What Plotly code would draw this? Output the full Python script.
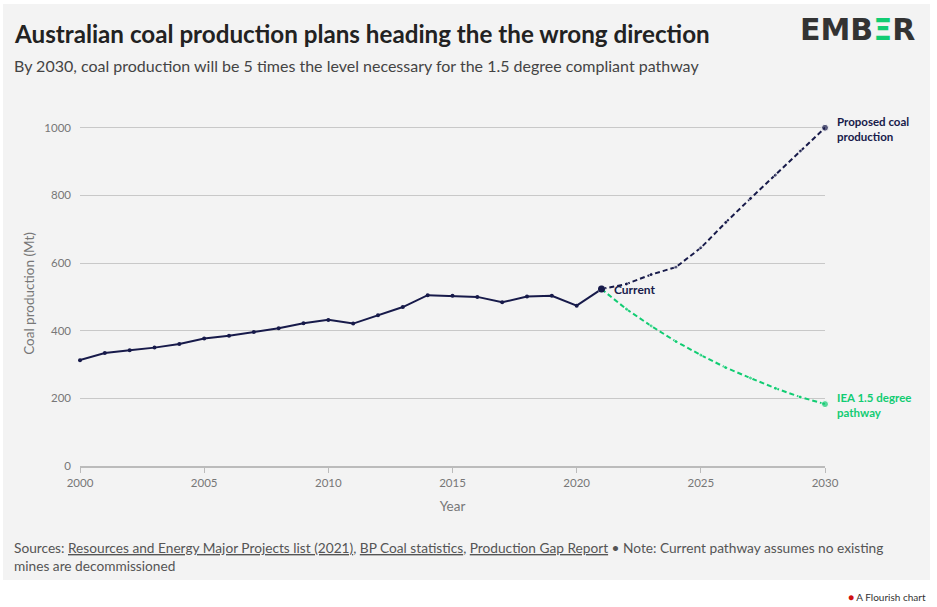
import plotly.graph_objects as go

# ---- data ----
hist_years = list(range(2000, 2022))
hist_values = [313, 334, 342, 350, 361, 377, 385, 396, 407, 422, 432, 421,
               446, 470, 505, 503, 500, 484, 501, 503, 474, 523]
proj_years = list(range(2021, 2031))
proposed_values = [523, 538, 566, 588, 645, 720, 791, 860, 931, 1000]
iea_values = [523, 464, 414, 368, 328, 291, 260, 230, 204, 183]
y_ticks = [0, 200, 400, 600, 800, 1000]
x_ticks = [2000, 2005, 2010, 2015, 2020, 2025, 2030]

NAVY = "#171a4a"
GREEN = "#11cc72"
GRAY_TXT = "#777777"
BG = "#f3f3f3"
FONT = "Lato"

W, H = 937, 607
ML, MR, MT, MB = 80, 112, 121, 141
PH = H - MT - MB
PW = W - ML - MR


def py(p):  # pixel y -> paper y
    return (H - MB - p) / PH


def px(p):  # pixel x -> paper x
    return (p - ML) / PW


fig = go.Figure()

fig.add_trace(go.Scatter(
    x=hist_years, y=hist_values, mode="lines+markers",
    line=dict(color=NAVY, width=2), marker=dict(size=4, color=NAVY),
    cliponaxis=False, showlegend=False))
fig.add_trace(go.Scatter(
    x=proj_years, y=proposed_values, mode="lines+markers",
    line=dict(color=NAVY, width=2, dash="5px,3px"),
    marker=dict(size=[7] + [4] * (len(proj_years) - 2) + [7], color=NAVY),
    cliponaxis=False, showlegend=False))
fig.add_trace(go.Scatter(
    x=proj_years, y=iea_values, mode="lines+markers",
    line=dict(color=GREEN, width=2, dash="5px,3px"),
    marker=dict(size=[0] + [4] * (len(proj_years) - 2) + [7], color=GREEN),
    cliponaxis=False, showlegend=False))
# re-draw current point on top
fig.add_trace(go.Scatter(
    x=[proj_years[0]], y=[proposed_values[0]], mode="markers",
    marker=dict(size=7, color=NAVY), cliponaxis=False, showlegend=False))

# white page strip under the gray panel, and thin white borders
for (x0, x1, y0, y1) in [(0, W, 580, H), (0, 3, 0, H), (930, W, 0, H), (0, W, 0, 4)]:
    fig.add_shape(type="rect", xref="paper", yref="paper",
                  x0=px(x0), x1=px(x1), y0=py(y1), y1=py(y0),
                  fillcolor="white", line=dict(width=0), layer="above")

ann = []
ann.append(dict(text="<b>Australian coal production plans heading the the wrong direction</b>",
                x=px(12), y=py(33), xanchor="left", yanchor="middle",
                font=dict(size=24.2, color="#222222", family=FONT)))
ann.append(dict(text="By 2030, coal production will be 5 times the level necessary for the 1.5 degree compliant pathway",
                x=px(12), y=py(66), xanchor="left", yanchor="middle",
                font=dict(size=16, color="#444444", family=FONT)))
ann.append(dict(text="<b>EMB<span style='color:%s'>Ξ</span>R</b>" % GREEN,
                x=px(917), y=py(29), xanchor="right", yanchor="middle",
                font=dict(size=30, color="#333333", family="DejaVu Sans")))
ann.append(dict(text="<b>Current</b>", x=2021, y=proposed_values[0], xref="x", yref="y",
                xanchor="left", yanchor="middle", xshift=10,
                font=dict(size=12, color=NAVY, family=FONT)))
ann.append(dict(text="<b>Proposed coal<br>production</b>", x=2030, y=proposed_values[-1],
                xref="x", yref="y", xanchor="left", yanchor="middle", xshift=10, yshift=-1,
                align="left", font=dict(size=11.5, color=NAVY, family=FONT)))
ann.append(dict(text="<b>IEA 1.5 degree<br>pathway</b>", x=2030, y=iea_values[-1],
                xref="x", yref="y", xanchor="left", yanchor="middle", xshift=10, yshift=-1,
                align="left", font=dict(size=11.5, color=GREEN, family=FONT)))
ul = "<span style='text-decoration:underline'>%s</span>"
ann.append(dict(text="Sources: " + ul % "Resources and Energy Major Projects list (2021)" + ", "
                + ul % "BP Coal statistics" + ", " + ul % "Production Gap Report"
                + " • Note: Current pathway assumes no existing<br>mines are decommissioned",
                x=px(12), y=py(537), xanchor="left", yanchor="top", align="left",
                font=dict(size=13.7, color="#555555", family=FONT)))
ann.append(dict(text="<span style='color:#d01010'>●</span> A Flourish chart",
                x=px(928), y=py(597), xanchor="right", yanchor="middle",
                font=dict(size=10, color="#333333", family=FONT)))
for a in ann:
    a.setdefault("xref", "paper")
    a.setdefault("yref", "paper")
    a["showarrow"] = False
fig.update_layout(annotations=ann)

fig.update_layout(
    width=W, height=H,
    margin=dict(l=ML, r=MR, t=MT, b=MB, pad=0),
    paper_bgcolor=BG, plot_bgcolor=BG,
    font=dict(family=FONT, color=GRAY_TXT),
    xaxis=dict(range=[2000, 2030], tickvals=x_ticks, ticktext=[str(v) for v in x_ticks],
               showgrid=False, zeroline=False, showline=True, linecolor="#bbbbbb",
               linewidth=1.5, ticks="outside", ticklen=5, tickcolor="#bbbbbb",
               tickfont=dict(size=11.5, color=GRAY_TXT),
               title=dict(text="Year", font=dict(size=13.5, color=GRAY_TXT), standoff=14)),
    yaxis=dict(range=[0, 1020], tickvals=y_ticks, showgrid=True, gridcolor="#c8c8c8",
               gridwidth=1.2, zeroline=False, showline=False, ticks="",
               tickfont=dict(size=11.5, color=GRAY_TXT), ticklabelstandoff=8,
               title=dict(text="Coal production (Mt)", font=dict(size=13.5, color=GRAY_TXT),
                          standoff=6)),
    hovermode="closest",
)

fig.write_html("out.html")
